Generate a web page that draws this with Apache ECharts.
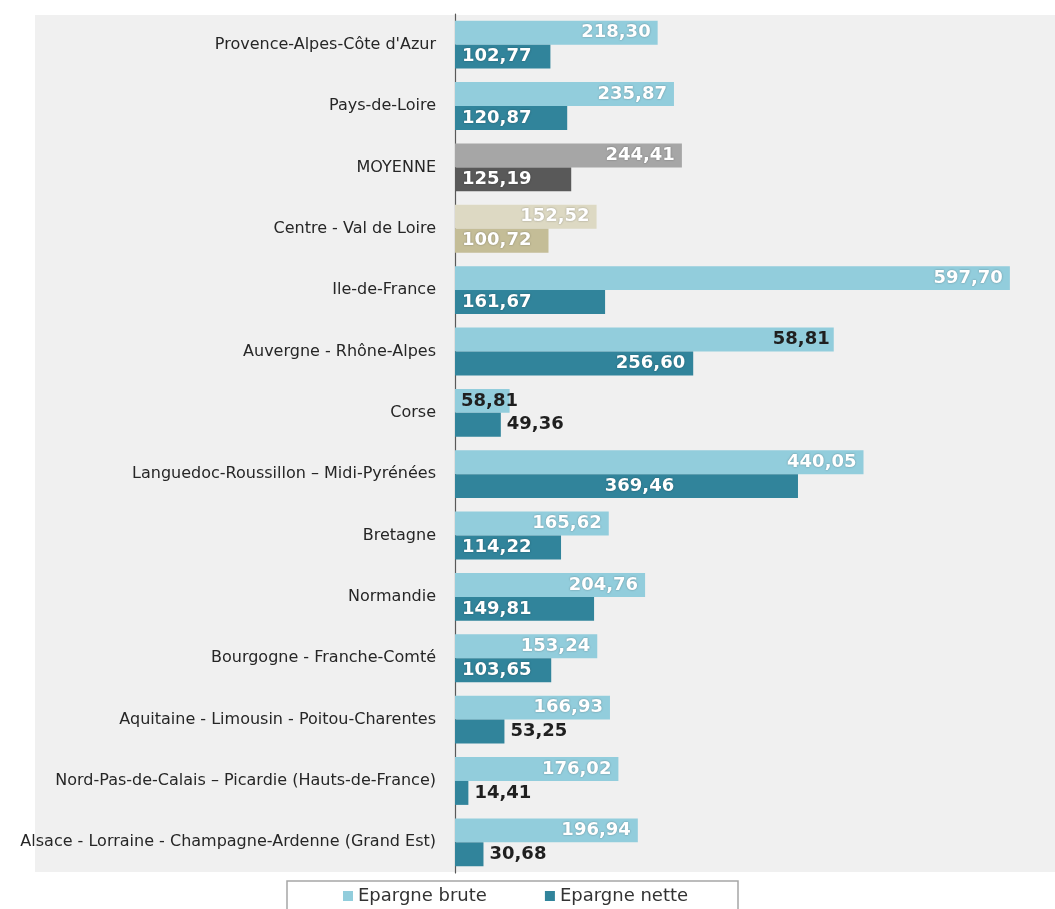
<!DOCTYPE html>
<html><head><meta charset="utf-8">
<script src="https://cdn.jsdelivr.net/npm/echarts@6/dist/echarts.min.js"></script>
<style>html,body{margin:0;padding:0;background:#fff}#c{width:1055px;height:909px}</style>
</head><body><div id="c"></div>
<script>
const categories = [
  "Provence-Alpes-Côte d'Azur",
  "Pays-de-Loire",
  "MOYENNE",
  "Centre - Val de Loire",
  "Ile-de-France",
  "Auvergne - Rhône-Alpes",
  "Corse",
  "Languedoc-Roussillon – Midi-Pyrénées",
  "Bretagne",
  "Normandie",
  "Bourgogne - Franche-Comté",
  "Aquitaine - Limousin - Poitou-Charentes",
  "Nord-Pas-de-Calais – Picardie (Hauts-de-France)",
  "Alsace - Lorraine - Champagne-Ardenne (Grand Est)"
];
const brute = [218.30, 235.87, 244.41, 152.52, 597.70, 408, 58.81, 440.05, 165.62, 204.76, 153.24, 166.93, 176.02, 196.94];
const nette = [102.77, 120.87, 125.19, 100.72, 161.67, 256.60, 49.36, 369.46, 114.22, 149.81, 103.65, 53.25, 14.41, 30.68];
const bruteLabels = ["218,30","235,87","244,41","152,52","597,70","58,81","58,81","440,05","165,62","204,76","153,24","166,93","176,02","196,94"];
const netteLabels = ["102,77","120,87","125,19","100,72","161,67","256,60","49,36","369,46","114,22","149,81","103,65","53,25","14,41","30,68"];
const seriesNames = ["Epargne brute", "Epargne nette"];

const COL_B = '#92CDDC', COL_N = '#31849B';
const special = {
  "MOYENNE": ['#A6A6A6', '#595959'],
  "Centre - Val de Loire": ['#DDD9C3', '#C4BD97']
};
const dark = '#1f1f1f';
const whiteLbl = {color:'#fff', textShadowColor:'rgba(0,0,0,0.35)', textShadowBlur:2};
const lblFont = {fontFamily:'DejaVu Sans', fontSize:18, fontWeight:'bold'};

const bruteData = brute.map((v,i)=>{
  const c = categories[i];
  const col = special[c] ? special[c][0] : COL_B;
  let label;
  if (c === 'Corse') label = Object.assign({show:true, position:'insideLeft', distance:6, color:dark}, lblFont);
  else if (c.indexOf('Auvergne') === 0) label = Object.assign({show:true, position:'insideRight', distance:4, color:dark}, lblFont);
  else label = Object.assign({show:true, position:'insideRight', distance:7}, whiteLbl, lblFont);
  label.formatter = bruteLabels[i];
  return {value:v, itemStyle:{color:col}, label};
});
const netteData = nette.map((v,i)=>{
  const c = categories[i];
  const col = special[c] ? special[c][1] : COL_N;
  let label;
  if (v < 60) label = Object.assign({show:true, position:'right', distance:6, color:dark}, lblFont);
  else if (c.indexOf('Auvergne') === 0) label = Object.assign({show:true, position:'insideRight', distance:8}, whiteLbl, lblFont);
  else if (c.indexOf('Languedoc') === 0) label = Object.assign({show:true, position:'inside', offset:[13,0]}, whiteLbl, lblFont);
  else label = Object.assign({show:true, position:'insideLeft', distance:7}, whiteLbl, lblFont);
  label.formatter = netteLabels[i];
  return {value:v, itemStyle:{color:col}, label};
});

const chart = echarts.init(document.getElementById('c'), null, {renderer:'canvas'});
chart.setOption({
  animation:false,
  backgroundColor:'#ffffff',
  graphic:[
    {type:'rect', z:-10, shape:{x:35, y:15, width:1020, height:857}, style:{fill:'#f0f0f0'}},
    {type:'rect', z:-5, shape:{x:287, y:881, width:451, height:40}, style:{fill:'#ffffff', stroke:'#a6a6a6', lineWidth:1.5}}
  ],
  grid:{left:455, right:43, top:14, bottom:36, containLabel:false},
  xAxis:{type:'value', min:0, max:600, show:false},
  yAxis:{
    type:'category', data:categories, inverse:true,
    axisLine:{show:true, lineStyle:{color:'#595959', width:1.2}},
    axisTick:{show:false},
    axisLabel:{margin:19, color:'#262626', fontFamily:'DejaVu Sans', fontSize:16}
  },
  legend:{
    top:882, left:338, itemGap:58, icon:'rect', itemWidth:10, itemHeight:10,
    textStyle:{fontFamily:'DejaVu Sans', fontSize:18, color:'#333'},
    data:[{name:seriesNames[0], itemStyle:{color:COL_B}},{name:seriesNames[1], itemStyle:{color:COL_N}}]
  },
  series:[
    {name:seriesNames[0], type:'bar', data:bruteData, barGap:'0%', barCategoryGap:'22%', itemStyle:{color:COL_B}},
    {name:seriesNames[1], type:'bar', data:netteData, barGap:'0%', barCategoryGap:'22%', itemStyle:{color:COL_N}}
  ]
});
</script></body></html>
